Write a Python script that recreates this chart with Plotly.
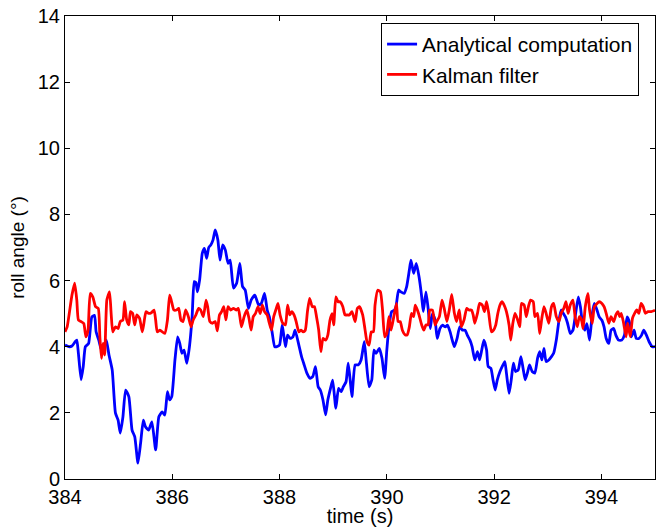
import plotly.graph_objects as go

# ---- Analytical computation (blue) ----
time_analytical = [
    384.00, 384.07, 384.13, 384.19, 384.22, 384.25, 384.30, 384.34, 384.38, 384.44,
    384.50, 384.55, 384.58, 384.63, 384.68, 384.72, 384.77, 384.82, 384.88, 384.94,
    384.99, 385.03, 385.08, 385.13, 385.19, 385.25, 385.30, 385.36, 385.41, 385.46,
    385.50, 385.56, 385.62, 385.69, 385.75,
    385.81, 385.86, 385.91, 385.95, 385.99, 386.05, 386.10, 386.14, 386.18, 386.22,
    386.27, 386.32, 386.37, 386.41, 386.44, 386.47, 386.51, 386.56, 386.60, 386.64,
    386.68, 386.72, 386.76, 386.80, 386.85, 386.89, 386.94, 386.99, 387.04, 387.08,
    387.14, 387.20, 387.26, 387.31, 387.36, 387.42, 387.47, 387.54,
    387.61, 387.66, 387.72, 387.77, 387.81, 387.86, 387.91, 387.95, 388.00, 388.05,
    388.11, 388.15, 388.20, 388.25, 388.29, 388.36, 388.41, 388.45, 388.51, 388.57,
    388.62, 388.67, 388.72, 388.76, 388.81, 388.86, 388.90, 388.95, 388.99, 389.05,
    389.10, 389.15, 389.19, 389.24, 389.28, 389.32, 389.35,
    389.41, 389.47, 389.52, 389.58, 389.62, 389.67, 389.72, 389.76, 389.80, 389.86,
    389.91, 389.96, 390.00, 390.04, 390.09, 390.14, 390.17, 390.22, 390.26, 390.32,
    390.37, 390.42, 390.45, 390.50, 390.55, 390.60, 390.65, 390.68, 390.73, 390.77,
    390.81, 390.85, 390.90, 390.94, 390.99, 391.04, 391.09, 391.13, 391.18,
    391.22, 391.26, 391.31, 391.36, 391.41, 391.46, 391.50, 391.55, 391.59, 391.64,
    391.69, 391.73, 391.77, 391.81, 391.86, 391.89, 391.94, 391.98, 392.02, 392.06,
    392.11, 392.15, 392.20, 392.23, 392.28, 392.32, 392.36, 392.40, 392.45, 392.50,
    392.54, 392.58, 392.62, 392.66, 392.71, 392.76, 392.81, 392.85, 392.89, 392.93,
    392.97,
    393.02, 393.07, 393.11, 393.16, 393.21, 393.25, 393.29, 393.33, 393.37, 393.42,
    393.47, 393.52, 393.57, 393.61, 393.64, 393.69, 393.73, 393.78, 393.83, 393.87,
    393.92, 393.96, 394.01, 394.05, 394.09, 394.14, 394.18, 394.23, 394.27, 394.32,
    394.38, 394.43, 394.48, 394.53, 394.56, 394.61, 394.65, 394.70, 394.75, 394.79,
    394.84, 394.89, 394.95, 395.00,
]
roll_analytical = [
    4.05, 4.0, 4.02, 4.15, 4.2, 3.8, 3.0, 3.4, 4.0, 4.1,
    4.9, 4.95, 4.45, 4.2, 3.9, 4.0, 4.2, 3.75, 3.3, 2.0,
    1.78, 1.39, 1.88, 2.69, 2.49, 1.48, 1.28, 0.48, 1.09, 1.78,
    1.58, 1.48, 1.73, 0.88, 1.88,
    2.03, 1.93, 2.64, 2.39, 2.49, 3.6, 4.3, 4.1, 3.8, 3.9,
    3.5, 4.0, 4.9, 5.97, 5.94, 5.66, 6.02, 6.83, 6.97, 6.67,
    7.0, 7.08, 7.23, 7.53, 7.23, 6.62, 7.08, 6.92, 6.52, 6.62,
    5.77, 5.92, 6.52, 5.82, 5.71, 5.16, 5.41, 5.56,
    5.26, 5.31, 5.61, 5.11, 4.9, 4.45, 4.0, 4.0, 4.05, 4.66,
    4.0, 4.35, 4.25, 4.3, 4.5, 4.05, 3.7, 3.5, 3.2, 3.04,
    3.1, 3.4, 2.79, 2.69, 2.39, 1.94, 2.39, 2.74, 2.99, 2.14,
    2.74, 2.64, 2.79, 2.94, 3.5, 2.94, 2.49,
    3.45, 3.45, 3.6, 4.15, 3.5, 2.79, 3.0, 3.9, 3.8, 3.95,
    3.65, 3.04, 3.9, 4.6, 5.06, 5.1, 5.2, 5.71, 5.66, 5.61,
    5.82, 6.32, 6.62, 6.22, 6.52, 6.12, 5.51, 5.06, 5.66, 5.16,
    4.55, 5.0, 4.8, 4.25, 4.55, 4.65, 4.6, 4.65, 4.45,
    4.2, 4.0, 4.25, 4.6, 4.5, 4.5, 4.35, 4.2, 4.0, 3.6,
    3.85, 3.6, 3.9, 4.2, 3.9, 3.4, 3.35, 3.0, 2.69, 3.0,
    3.25, 3.4, 3.55, 3.2, 2.59, 3.0, 3.5, 3.25, 3.3, 3.7,
    3.35, 3.0, 3.2, 3.45, 3.25, 3.2, 3.65, 3.85, 3.6, 3.95,
    3.55,
    3.6, 3.7, 3.8, 4.2, 4.8, 5.11, 5.01, 4.9, 4.71, 4.4,
    4.5, 5.0, 5.51, 5.2, 4.8, 4.5, 4.7, 4.2, 5.0, 5.31,
    5.1, 4.9, 4.8, 4.6, 4.25, 4.1, 4.5, 4.55, 4.35, 4.2,
    4.2, 4.35, 4.9, 4.7, 4.3, 4.5, 4.25, 4.25, 4.35, 4.5,
    4.35, 4.15, 4.0, 4.0,
]

# ---- Kalman filter (red) ----
time_kalman = [
    384.00, 384.04, 384.08, 384.13, 384.18, 384.22, 384.25, 384.30, 384.35, 384.39,
    384.43, 384.47, 384.52, 384.57, 384.62, 384.65, 384.68, 384.71, 384.74, 384.78,
    384.83, 384.86, 384.89, 384.94, 384.99, 385.03, 385.08, 385.11, 385.15, 385.19,
    385.22, 385.26, 385.30, 385.34, 385.39, 385.44, 385.47, 385.51, 385.56, 385.61,
    385.66, 385.69, 385.72, 385.77,
    385.86, 385.91, 385.95, 385.98, 386.03, 386.08, 386.12, 386.16, 386.20, 386.25,
    386.30, 386.35, 386.39, 386.44, 386.49, 386.53, 386.58, 386.63, 386.66, 386.70,
    386.75, 386.80, 386.84, 386.88, 386.92, 386.96, 387.00, 387.04, 387.09, 387.14,
    387.19, 387.23, 387.26, 387.29, 387.34, 387.39, 387.43, 387.47, 387.51,
    387.55, 387.60, 387.64, 387.68, 387.72, 387.77, 387.81, 387.85, 387.89, 387.93,
    387.97, 388.01, 388.06, 388.11, 388.15, 388.19, 388.23, 388.27, 388.31, 388.36,
    388.40, 388.44, 388.48, 388.52, 388.56, 388.61, 388.65, 388.69, 388.73, 388.77,
    388.81, 388.86, 388.90, 388.94, 388.98, 389.01, 389.05, 389.09, 389.13, 389.18,
    389.22, 389.26, 389.30, 389.35,
    389.41, 389.45, 389.49, 389.55, 389.59, 389.63, 389.67, 389.71, 389.75, 389.78,
    389.83, 389.88, 389.92, 389.96, 390.00, 390.04, 390.08, 390.13, 390.18, 390.21,
    390.25, 390.29, 390.34, 390.38, 390.42, 390.46, 390.50, 390.53, 390.57, 390.60,
    390.65, 390.69, 390.73, 390.77, 390.80, 390.85, 390.90, 390.93, 390.98, 391.03,
    391.07, 391.12, 391.17,
    391.21, 391.26, 391.30, 391.35, 391.39, 391.44, 391.49, 391.53, 391.58, 391.61,
    391.64, 391.69, 391.73, 391.78, 391.82, 391.86, 391.90, 391.95, 391.99, 392.03,
    392.07, 392.11, 392.15, 392.20, 392.23, 392.28, 392.31, 392.35, 392.39, 392.43,
    392.48, 392.51, 392.56, 392.60, 392.64, 392.68, 392.73, 392.76, 392.81, 392.85,
    392.89, 392.93, 392.97,
    393.02, 393.07, 393.11, 393.16, 393.21, 393.25, 393.30, 393.34, 393.38, 393.42,
    393.47, 393.51, 393.55, 393.59, 393.63, 393.66, 393.70, 393.75, 393.78, 393.83,
    393.87, 393.92, 393.96, 394.01, 394.05, 394.09, 394.14, 394.18, 394.23, 394.27,
    394.31, 394.34, 394.37, 394.41, 394.46, 394.49, 394.54, 394.58, 394.62, 394.66,
    394.70, 394.74, 394.78, 394.82, 394.87, 394.93, 395.00,
]
roll_kalman = [
    4.45, 4.6, 5.01, 5.56, 5.92, 5.41, 4.81, 4.76, 4.7, 4.3,
    4.5, 5.61, 5.5, 5.21, 5.16, 4.3, 3.65, 4.1, 3.75, 5.41,
    5.66, 5.01, 4.45, 4.6, 4.55, 4.76, 4.81, 5.36, 4.81, 4.66,
    5.06, 5.01, 4.66, 4.96, 4.86, 4.45, 4.7, 5.06, 5.01, 5.03,
    5.11, 4.81, 4.45, 4.5,
    4.4, 4.81, 5.56, 5.41, 5.11, 5.11, 5.16, 4.81, 4.76, 5.11,
    4.91, 4.6, 4.81, 4.96, 5.16, 5.11, 4.91, 5.41, 5.21, 4.76,
    4.71, 4.76, 4.48, 4.96, 5.06, 5.21, 4.81, 5.21, 5.11, 5.16,
    5.11, 5.16, 4.91, 4.6, 4.91, 5.11, 4.86, 4.5, 4.91,
    5.0, 5.21, 5.0, 5.26, 5.06, 4.96, 4.71, 4.5, 4.9, 5.11,
    5.31, 4.96, 4.71, 4.66, 5.26, 4.96, 5.06, 4.96, 4.76, 4.45,
    4.5, 4.45, 4.5, 5.06, 5.46, 5.21, 5.21, 4.9, 4.5, 3.85,
    4.25, 4.2, 4.35, 4.8, 5.0, 4.66, 5.51, 5.36, 5.36, 5.21,
    4.96, 4.96, 4.96, 5.06,
    4.76, 5.16, 5.21, 4.96, 4.56, 4.15, 4.05, 4.45, 4.45, 5.26,
    5.71, 5.66, 5.11, 4.3, 4.4, 4.91, 4.5, 4.91, 5.31, 4.76,
    4.76, 4.5, 4.36, 4.36, 4.6, 5.01, 4.91, 5.26, 5.11, 4.96,
    4.66, 4.5, 4.66, 4.66, 5.11, 5.11, 4.66, 4.76, 4.91, 5.41,
    5.16, 4.76, 5.16,
    5.58, 5.01, 4.76, 5.11, 4.6, 4.81, 5.16, 5.11, 5.11, 4.96,
    4.71, 5.01, 5.31, 5.26, 5.06, 5.36, 5.01, 4.45, 4.5, 4.65,
    5.01, 5.26, 5.36, 5.21, 5.06, 4.65, 4.2, 4.71, 5.01, 4.86,
    4.6, 5.31, 5.26, 4.91, 5.21, 5.41, 5.36, 4.91, 5.01, 4.4,
    4.86, 5.21, 5.01,
    4.71, 5.21, 5.31, 4.91, 4.76, 5.01, 5.16, 5.36, 5.01, 5.26,
    5.41, 4.91, 4.6, 4.91, 4.81, 4.55, 5.21, 5.61, 5.11, 4.71,
    5.21, 5.31, 5.36, 5.31, 5.21, 5.01, 4.71, 4.91, 4.76, 4.96,
    5.06, 4.91, 5.01, 4.76, 4.3, 4.71, 4.3, 4.86, 5.01, 5.11,
    5.01, 5.31, 5.21, 5.01, 5.06, 5.06, 5.1,
]

x_ticks = [384, 386, 388, 390, 392, 394]
y_ticks = [0, 2, 4, 6, 8, 10, 12, 14]

FONT = "Liberation Sans, Arial, Helvetica, sans-serif"

fig = go.Figure()
fig.add_trace(go.Scatter(
    x=time_analytical, y=roll_analytical, mode="lines",
    name="Analytical computation",
    line=dict(color="#0000FF", width=2.8, shape="spline", smoothing=0.5),
))
fig.add_trace(go.Scatter(
    x=time_kalman, y=roll_kalman, mode="lines",
    name="Kalman filter",
    line=dict(color="#FF0000", width=2.8, shape="spline", smoothing=0.5),
))

axis_common = dict(
    showgrid=False, zeroline=False, showline=True, linecolor="black", linewidth=1,
    mirror="ticks", ticks="inside", ticklen=5, tickcolor="black", tickwidth=1,
    tickfont=dict(size=20, color="black", family=FONT),
    automargin=False,
)

fig.update_layout(
    width=657, height=527,
    margin=dict(l=65, r=2, t=16, b=48),
    paper_bgcolor="white", plot_bgcolor="white",
    font=dict(family=FONT, color="black", size=20),
    showlegend=True,
    legend=dict(
        x=0.973, xanchor="right", y=0.985, yanchor="top",
        bgcolor="white", bordercolor="black", borderwidth=1,
        font=dict(size=21, family=FONT, color="black"),
        tracegroupgap=0, itemwidth=30,
    ),
    xaxis=dict(
        range=[384, 395], tickvals=x_ticks, ticktext=[str(v) for v in x_ticks],
        title=dict(text="time (s)", font=dict(size=20, family=FONT), standoff=2),
        **axis_common,
    ),
    yaxis=dict(
        range=[0, 14], tickvals=y_ticks, ticktext=[str(v) for v in y_ticks],
        title=dict(text="roll angle (°)", font=dict(size=19, family=FONT), standoff=8),
        **axis_common,
    ),
)

fig.write_html(
    "out.html",
    config={"displayModeBar": False},
    post_script="document.body.style.margin='0';",
)
